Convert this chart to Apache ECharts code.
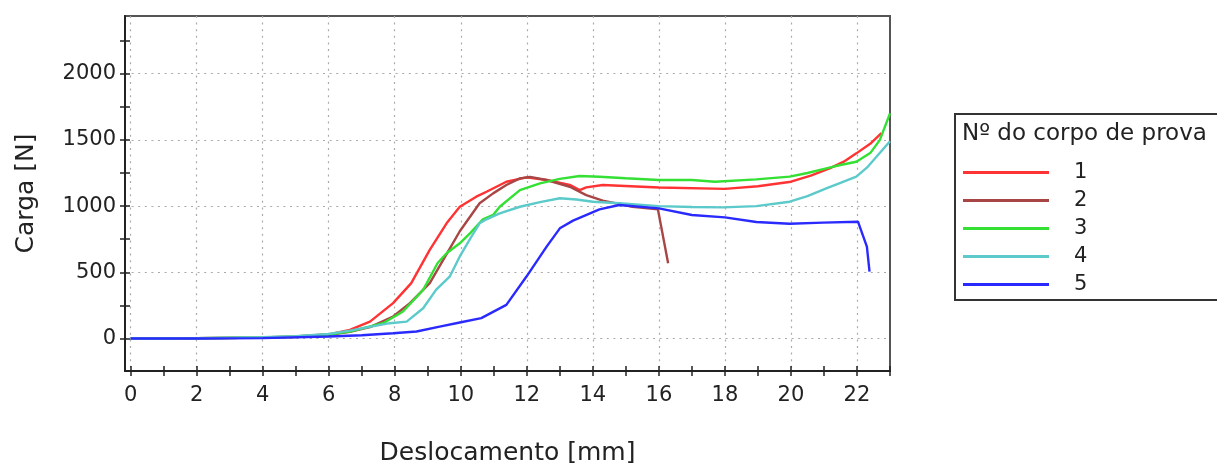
<!DOCTYPE html>
<html>
<head>
<meta charset="utf-8">
<script src="https://cdn.jsdelivr.net/npm/echarts@6/dist/echarts.min.js"></script>
<style>
  html, body { margin: 0; padding: 0; background: #fff; }
  #chart { width: 1217px; height: 464px; }
</style>
</head>
<body>
<div id="chart"></div>
<script>
// specimen numbers (legend)
let specimens = ["1", "2", "3", "4", "5"];
let colors = ["#ff3333", "#a84646", "#33e033", "#5ccaca", "#2a2aff"];

// [displacement mm, load N]
let curve1 = [[0,0],[2,2],[4,8],[5,15],[6,32],[6.64,65],[7.25,128],[7.95,267],[8.5,418],[9.06,669],[9.57,870],[9.97,995],[10.47,1071],[10.78,1108],[11.38,1184],[11.99,1217],[12.6,1197],[13.3,1160],[13.6,1121],[13.8,1141],[14.3,1159],[16.0,1140],[18.0,1130],[19.0,1150],[20.0,1184],[20.6,1230],[21.17,1285],[21.6,1335],[21.98,1398],[22.4,1470],[22.74,1550]];
let curve2 = [[0,0],[2,2],[4,7],[5,12],[6,28],[6.64,50],[7.25,86],[7.95,166],[8.46,267],[9.06,418],[9.6,650],[9.97,810],[10.57,1021],[10.98,1096],[11.38,1159],[11.79,1209],[12.1,1220],[12.6,1197],[13.3,1146],[13.8,1083],[14.3,1041],[15.2,995],[15.97,976],[16.28,568]];
let curve3 = [[0,0],[2,2],[4,8],[5,15],[6,30],[6.64,53],[7.65,116],[8.25,204],[8.86,367],[9.3,570],[9.57,644],[9.97,719],[10.3,800],[10.67,900],[10.98,933],[11.18,995],[11.79,1121],[12.4,1171],[13.0,1205],[13.6,1227],[14.2,1222],[15.0,1210],[16.0,1197],[17.0,1197],[17.7,1184],[18.95,1202],[19.96,1222],[20.5,1250],[21.07,1285],[21.5,1310],[21.98,1335],[22.4,1400],[22.69,1498],[23.0,1700]];
let curve4 = [[0,0],[2,2],[4,10],[5,18],[6,35],[6.64,60],[7.85,116],[8.36,128],[8.86,229],[9.25,367],[9.67,470],[9.97,620],[10.3,760],[10.57,870],[10.78,900],[11.18,945],[11.79,995],[12.4,1030],[13.0,1059],[13.5,1050],[14.0,1033],[14.8,1021],[16.0,1000],[17.0,993],[17.94,990],[18.95,1000],[19.96,1033],[20.5,1075],[21.07,1134],[21.5,1175],[21.98,1222],[22.3,1290],[22.59,1372],[23.0,1490]];
let curve5 = [[0,0],[2,0],[4,3],[6,15],[7,25],[7.95,40],[8.66,53],[9.36,90],[9.97,121],[10.62,154],[11.38,254],[11.99,468],[12.6,694],[13.0,832],[13.4,890],[14.2,975],[14.8,1008],[16.0,983],[17.0,933],[18.0,915],[18.95,880],[19.96,867],[20.97,875],[22.03,882],[22.3,694],[22.38,505]];
let curves = [curve1, curve2, curve3, curve4, curve5];

// axis ticks / labels
let xLabels = [0, 2, 4, 6, 8, 10, 12, 14, 16, 18, 20, 22];
let xTicks = [0,1,2,3,4,5,6,7,8,9,10,11,12,13,14,15,16,17,18,19,20,21,22,23];
let yLabels = [0, 500, 1000, 1500, 2000];
let yTicks = [-250, 0, 250, 500, 750, 1000, 1250, 1500, 1750, 2000, 2250];

const FONT = "DejaVu Sans";
const X_MIN = -0.17, X_MAX = 23, Y_MIN = -245, Y_MAX = 2435;

let chart = echarts.init(document.getElementById("chart"));

function tickAxis(vals, inside, extra) {
  return Object.assign({
    type: "value",
    axisLine: { show: true, onZero: false, lineStyle: { color: "#222", width: 1.5 } },
    axisTick: { show: true, inside: inside, length: 5, customValues: vals, lineStyle: { color: "#222", width: 1.5 } },
    axisLabel: { show: false },
    splitLine: { show: false }
  }, extra);
}

let option = {
  animation: false,
  textStyle: { fontFamily: FONT },
  grid: {
    left: 125, right: 327, top: 16, bottom: 93,
    outerBoundsMode: "none",
    containLabel: false,
    show: true, borderColor: "#555", borderWidth: 2
  },
  xAxis: [
    {
      type: "value",
      min: X_MIN, max: X_MAX,
      name: "Deslocamento [mm]",
      nameLocation: "middle",
      nameGap: 70,
      nameTextStyle: { fontSize: 25, color: "#222", fontFamily: FONT },
      axisLine: { show: true, onZero: false, lineStyle: { color: "#222", width: 1.5 } },
      axisTick: { show: false, customValues: xLabels },
      axisLabel: { customValues: xLabels, fontSize: 21, color: "#222", margin: 14, fontFamily: FONT,
        formatter: function(v) { return String(v); } },
      splitLine: { show: true, lineStyle: { color: "#aaa", type: [2, 4.6], width: 1.2 } }
    },
    tickAxis(xTicks, false, { min: X_MIN, max: X_MAX, position: "bottom" }),
    tickAxis(xTicks, true, { min: X_MIN, max: X_MAX, position: "bottom" })
  ],
  yAxis: [
    {
      type: "value",
      min: Y_MIN, max: Y_MAX,
      name: "Carga [N]",
      nameLocation: "middle",
      nameGap: 86,
      nameTextStyle: { fontSize: 25, color: "#222", fontFamily: FONT },
      axisLine: { show: true, onZero: false, lineStyle: { color: "#222", width: 1.5 } },
      axisTick: { show: false, customValues: yLabels },
      axisLabel: { customValues: yLabels, fontSize: 21, color: "#222", margin: 9, fontFamily: FONT,
        formatter: function(v) { return String(v); } },
      splitLine: { show: true, lineStyle: { color: "#aaa", type: [2, 4.6], width: 1.2 } }
    },
    tickAxis(yTicks, false, { min: Y_MIN, max: Y_MAX, position: "left" }),
    tickAxis(yTicks, true, { min: Y_MIN, max: Y_MAX, position: "left" })
  ],
  legend: {
    orient: "vertical",
    left: 958,
    top: 157,
    icon: "rect",
    itemWidth: 86,
    itemHeight: 3,
    itemGap: 7,
    data: specimens,
    textStyle: { fontSize: 21, color: "#222", fontFamily: FONT, padding: [0, 0, 0, 20] }
  },
  graphic: [
    {
      type: "rect",
      shape: { x: 955, y: 114, width: 320, height: 186 },
      style: { fill: "none", stroke: "#333", lineWidth: 2 }
    },
    {
      type: "text",
      left: 962, top: 123,
      style: { text: "Nº do corpo de prova", font: "23px 'DejaVu Sans'", fill: "#222" }
    }
  ],
  series: specimens.map(function(name, i) {
    return {
      name: name,
      type: "line",
      data: curves[i],
      xAxisIndex: 0,
      yAxisIndex: 0,
      symbol: "none",
      color: colors[i],
      lineStyle: { width: 2.4, color: colors[i] }
    };
  })
};
chart.setOption(option);
</script>
</body>
</html>
